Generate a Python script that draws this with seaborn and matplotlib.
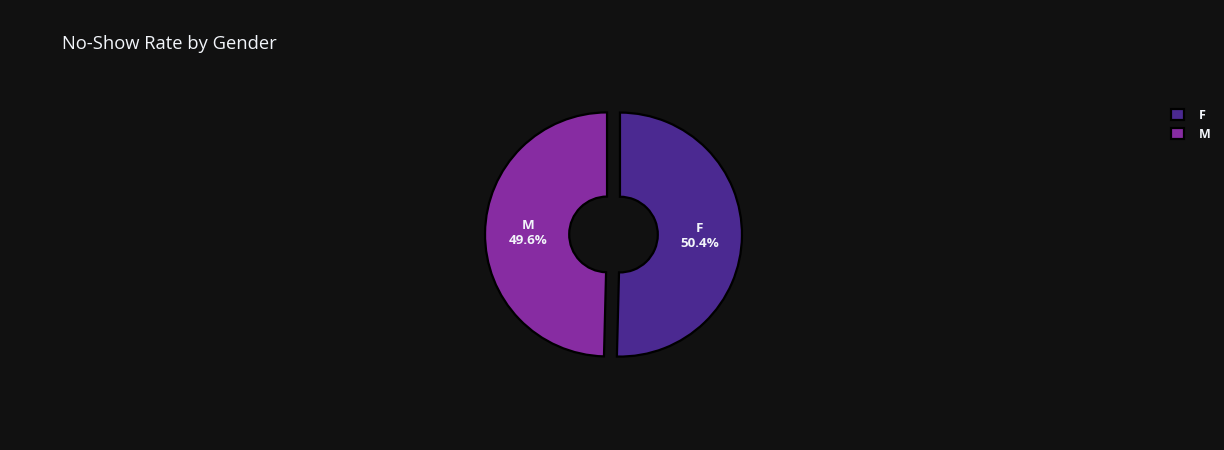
import matplotlib
matplotlib.use("Agg")
import matplotlib.pyplot as plt
import seaborn as sns
import numpy as np
from matplotlib.patches import Patch

# --- Data ---
genders = ["F", "M"]
no_show_share = [50.4, 49.6]
slice_colors = ["#4b2991", "#872ca2"]

BG = "#111111"
TEXT = "#f2f5fa"

sns.set_theme(style="dark", rc={"figure.facecolor": BG, "axes.facecolor": BG})
plt.rcParams["font.family"] = ["Open Sans", "DejaVu Sans"]

W, H = 1224, 450
fig = plt.figure(figsize=(W / 100, H / 100), dpi=100)
fig.patch.set_facecolor(BG)

# square axes centred on the donut (pixel coords)
cx, cy, half = 613.5, 234.5, 160
ax = fig.add_axes([(cx - half) / W, (H - cy - half) / H, 2 * half / W, 2 * half / H])
ax.set_facecolor(BG)
scale = half / 122.0  # one radius unit = 122 px
ax.axis("off")

hole = 0.31
pull = 0.053
wedges, _ = ax.pie(
    no_show_share,
    colors=slice_colors,
    startangle=90,
    counterclock=False,
    explode=[pull, pull],
    radius=1.0,
    wedgeprops=dict(width=1 - hole, edgecolor="black", linewidth=1.6),
)
ax.set_xlim(-scale, scale)
ax.set_ylim(-scale, scale)
ax.set_aspect("equal")

# labels inside the slices
for w, g, v in zip(wedges, genders, no_show_share):
    ang = np.deg2rad((w.theta1 + w.theta2) / 2)
    r = 0.65 + pull
    ax.text(r * np.cos(ang), r * np.sin(ang), f"{g}\n{v:.1f}%", ha="center", va="center",
            color=TEXT, fontsize=9.6, fontweight="bold", linespacing=1.2)

fig.text(62 / W, 1 - 44 / H, "No-Show Rate by Gender", color=TEXT, fontsize=13.2,
         ha="left", va="center")

handles = [Patch(facecolor=c, edgecolor="black", linewidth=1.6) for c in slice_colors]
leg = fig.legend(handles, genders, loc="upper left", bbox_to_anchor=(1166 / W, 1 - 104 / H),
                 frameon=False, fontsize=9, handlelength=1.0, handleheight=1.0,
                 handletextpad=1.2, labelspacing=0.45, borderaxespad=0)
for t in leg.get_texts():
    t.set_color(TEXT)
    t.set_fontweight("bold")

fig.savefig("out.png", dpi=100, facecolor=BG)
